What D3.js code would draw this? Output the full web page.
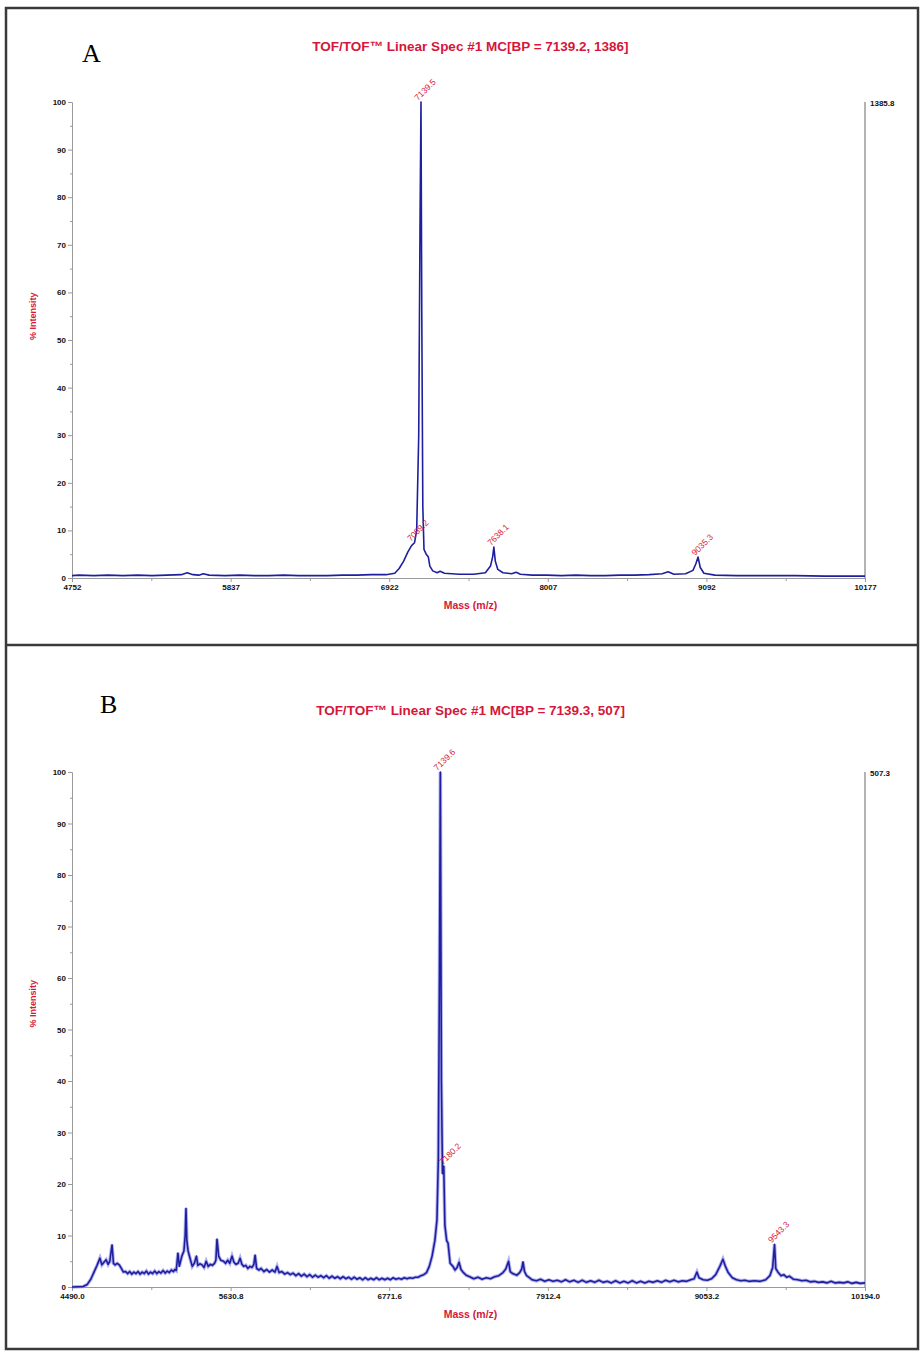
<!DOCTYPE html>
<html>
<head>
<meta charset="utf-8">
<script src="https://cdn.jsdelivr.net/npm/d3@7"></script>
<style>
  body { margin: 0; background: #fff; }
  svg { display: block; font-family: "Liberation Sans", Arial, sans-serif; }
  .tick text { font-size: 8px; font-weight: bold; fill: #111; }
  .axis path, .axis line { stroke: #9a9a9a; }
</style>
</head>
<body>
<script>
// ---- panel A: [mass, % intensity] ----
var specA = [[4752, 0.5], [4800, 0.6], [4900, 0.5], [5000, 0.6], [5100, 0.5], [5200, 0.6], [5300, 0.5],
  [5400, 0.6], [5500, 0.7], [5540, 1.1], [5580, 0.7], [5620, 0.6], [5650, 0.9], [5690, 0.6], [5800, 0.5],
  [5900, 0.6], [6000, 0.5], [6100, 0.5], [6200, 0.6], [6300, 0.5], [6400, 0.5], [6500, 0.5], [6600, 0.6],
  [6700, 0.6], [6800, 0.7], [6900, 0.7], [6960, 1.0], [6990, 2.0], [7020, 3.5], [7050, 5.5], [7075, 6.8],
  [7095, 7.4], [7110, 10], [7124, 30], [7133, 75], [7139.5, 100], [7145, 55], [7152, 15], [7160, 6],
  [7175, 5.0], [7190, 4.4], [7200, 2.5], [7220, 1.5], [7250, 1.1], [7270, 1.4], [7300, 1.0], [7350, 0.9],
  [7400, 0.8], [7500, 0.8], [7580, 1.1], [7615, 2.5], [7630, 4.5], [7638, 6.5], [7648, 3.5], [7665, 1.8],
  [7700, 1.1], [7760, 0.9], [7790, 1.2], [7820, 0.8], [7900, 0.6], [8000, 0.6], [8100, 0.5], [8200, 0.6],
  [8300, 0.5], [8400, 0.5], [8500, 0.6], [8600, 0.6], [8700, 0.7], [8790, 0.9], [8830, 1.3], [8870, 0.8],
  [8950, 0.9], [9000, 1.6], [9020, 3.0], [9035, 4.4], [9050, 2.2], [9075, 1.0], [9150, 0.6], [9300, 0.5],
  [9500, 0.5], [9700, 0.5], [9900, 0.4], [10177, 0.4]];
var ticksA = [4752, 5837, 6922, 8007, 9092, 10177];
var peakMassA = [7139.5, 7089.2, 7638.1, 9035.3];
var peakIntA = [100, 7.4, 6.5, 4.4];
var peakTextA = ["7139.5", "7089.2", "7638.1", "9035.3"];
var titleA = "TOF/TOF\u2122 Linear Spec #1 MC[BP = 7139.2, 1386]";
var maxCountA = "1385.8";

// ---- panel B ----
var specB = [[4490, 0], [4530, 0.05], [4570, 0.1], [4600, 0.5], [4625, 1.5], [4650, 3.0], [4670, 4.2],
  [4691, 5.6], [4705, 4.3], [4720, 4.8], [4735, 5.3], [4750, 4.4], [4762, 5.0], [4778, 8.2], [4788, 4.6],
  [4800, 4.3], [4815, 4.6], [4830, 4.3], [4845, 3.6], [4860, 2.9], [4875, 3.0], [4890, 2.6], [4905, 3.0],
  [4920, 2.5], [4935, 2.9], [4950, 2.6], [4965, 3.0], [4980, 2.5], [4995, 2.9], [5010, 2.6], [5025, 3.1],
  [5040, 2.5], [5055, 2.9], [5070, 2.6], [5085, 3.1], [5100, 2.6], [5115, 3.0], [5130, 2.7], [5145, 3.2],
  [5160, 2.7], [5175, 3.1], [5190, 2.8], [5205, 3.3], [5220, 3.0], [5230, 3.4], [5240, 3.2], [5252, 6.6],
  [5262, 4.0], [5280, 6.0], [5295, 7.0], [5304, 10], [5310, 15.3], [5316, 9], [5325, 7.0], [5340, 5.5],
  [5355, 4.0], [5370, 4.6], [5385, 6.0], [5395, 4.2], [5410, 4.5], [5425, 4.3], [5440, 3.8], [5455, 5.0],
  [5470, 4.0], [5485, 4.4], [5500, 4.2], [5515, 4.6], [5525, 5.2], [5533, 9.3], [5545, 6.0], [5560, 5.2],
  [5580, 5.0], [5595, 4.6], [5610, 5.2], [5625, 4.6], [5641, 6.0], [5655, 4.8], [5670, 4.4], [5685, 4.6],
  [5699, 5.6], [5712, 4.4], [5725, 4.0], [5740, 4.2], [5755, 3.6], [5770, 4.0], [5785, 3.8], [5798, 4.4],
  [5807, 6.2], [5818, 3.6], [5835, 3.3], [5850, 3.6], [5870, 3.0], [5890, 3.4], [5910, 2.9], [5930, 3.3],
  [5950, 2.9], [5965, 4.0], [5980, 2.8], [6000, 3.0], [6020, 2.5], [6040, 2.8], [6060, 2.4], [6080, 2.7],
  [6100, 2.2], [6120, 2.6], [6140, 2.1], [6160, 2.5], [6180, 2.0], [6200, 2.4], [6220, 1.9], [6240, 2.3],
  [6260, 1.9], [6280, 2.2], [6300, 1.8], [6320, 2.2], [6340, 1.7], [6360, 2.1], [6380, 1.7], [6400, 2.0],
  [6420, 1.6], [6440, 2.0], [6460, 1.6], [6480, 1.9], [6500, 1.5], [6520, 1.9], [6540, 1.5], [6560, 1.8],
  [6580, 1.4], [6600, 1.8], [6620, 1.4], [6640, 1.7], [6660, 1.4], [6680, 1.8], [6700, 1.4], [6720, 1.7],
  [6740, 1.4], [6760, 1.7], [6780, 1.4], [6800, 1.8], [6820, 1.5], [6840, 1.7], [6860, 1.5], [6880, 1.8],
  [6900, 1.6], [6920, 1.8], [6940, 1.7], [6960, 1.9], [6980, 1.9], [7000, 2.2], [7020, 2.4], [7040, 2.8],
  [7060, 4.0], [7080, 6.0], [7100, 9.0], [7115, 13], [7125, 25], [7133, 60], [7139.6, 100], [7147, 40],
  [7155, 22], [7164, 23.5], [7172, 12], [7185, 9], [7195, 8.5], [7210, 4.6], [7230, 4.0], [7245, 3.3],
  [7260, 3.8], [7274, 4.8], [7288, 3.4], [7302, 2.9], [7325, 2.3], [7350, 2.0], [7380, 1.6], [7410, 1.9],
  [7440, 1.5], [7470, 1.8], [7500, 1.6], [7530, 2.0], [7560, 2.2], [7590, 2.8], [7610, 3.5], [7630, 5.0],
  [7642, 3.0], [7660, 2.6], [7690, 2.3], [7710, 2.8], [7725, 3.5], [7734, 4.9], [7745, 3.0], [7760, 2.2],
  [7780, 1.8], [7800, 1.4], [7830, 1.2], [7860, 1.5], [7890, 1.1], [7920, 1.4], [7950, 1.1], [7980, 1.3],
  [8010, 1.0], [8040, 1.4], [8070, 1.0], [8100, 1.3], [8130, 0.9], [8160, 1.3], [8190, 0.9], [8220, 1.2],
  [8250, 0.9], [8280, 1.3], [8310, 0.9], [8340, 1.1], [8370, 0.8], [8400, 1.2], [8430, 0.8], [8460, 1.1],
  [8490, 0.8], [8520, 1.2], [8550, 0.8], [8580, 1.1], [8610, 0.8], [8640, 1.1], [8670, 0.9], [8700, 1.2],
  [8730, 0.9], [8760, 1.3], [8790, 1.0], [8820, 1.3], [8850, 1.0], [8880, 1.2], [8910, 1.1], [8940, 1.4],
  [8965, 1.6], [8985, 2.9], [9000, 1.8], [9030, 1.4], [9060, 1.3], [9090, 1.6], [9120, 2.4], [9150, 4.0],
  [9172, 5.4], [9190, 4.0], [9210, 2.8], [9240, 1.8], [9270, 1.4], [9300, 1.2], [9330, 1.3], [9360, 1.1],
  [9400, 1.2], [9440, 1.1], [9480, 1.4], [9510, 2.2], [9530, 3.8], [9543.3, 8.3], [9552, 3.6], [9570, 2.8],
  [9590, 2.2], [9610, 2.4], [9630, 1.9], [9650, 2.1], [9680, 1.5], [9710, 1.4], [9740, 1.2], [9770, 1.3],
  [9800, 1.0], [9830, 1.1], [9860, 0.9], [9890, 1.0], [9920, 0.8], [9950, 1.1], [9980, 0.8], [10010, 0.9],
  [10040, 0.8], [10070, 1.0], [10100, 0.7], [10130, 0.9], [10160, 0.7], [10194, 0.8]];
var ticksB = [4490.0, 5630.8, 6771.6, 7912.4, 9053.2, 10194.0];
var peakMassB = [7139.6, 7180.2, 9543.3];
var peakIntB = [100, 23.5, 8.3];
var peakTextB = ["7139.6", "7180.2", "9543.3"];
var titleB = "TOF/TOF\u2122 Linear Spec #1 MC[BP = 7139.3, 507]";
var maxCountB = "507.3";

var yTicks = [0, 10, 20, 30, 40, 50, 60, 70, 80, 90, 100];

var red = "#d4173a",
    trace = "#1f1f9e";

var svg = d3.select("body").append("svg")
    .attr("width", 920)
    .attr("height", 1353);

svg.append("rect").attr("width", 920).attr("height", 1353).attr("fill", "#fff");

// frame and divider
svg.append("rect")
    .attr("x", 6).attr("y", 8)
    .attr("width", 912).attr("height", 1341)
    .attr("fill", "none").attr("stroke", "#3a3a3a").attr("stroke-width", 2.5);
svg.append("line")
    .attr("x1", 6).attr("x2", 918).attr("y1", 645).attr("y2", 645)
    .attr("stroke", "#3a3a3a").attr("stroke-width", 2.5);

drawPanel({
  letter: "A", letterX: 82, letterY: 62,
  title: titleA, titleY: 51,
  left: 72, right: 865, top: 102, bottom: 578,
  spec: specA, ticks: ticksA,
  fmt: d3.format("d"),
  peakMass: peakMassA, peakInt: peakIntA, peakText: peakTextA,
  maxCount: maxCountA, fuzz: false
});

drawPanel({
  letter: "B", letterX: 100, letterY: 713,
  title: titleB, titleY: 715,
  left: 72, right: 865, top: 772, bottom: 1287,
  spec: specB, ticks: ticksB,
  fmt: d3.format(".1f"),
  peakMass: peakMassB, peakInt: peakIntB, peakText: peakTextB,
  maxCount: maxCountB, fuzz: true
});

function drawPanel(p) {
  var x = d3.scaleLinear()
      .domain([p.ticks[0], p.ticks[p.ticks.length - 1]])
      .range([p.left, p.right]);
  var y = d3.scaleLinear().domain([0, 100]).range([p.bottom, p.top]);

  var g = svg.append("g");

  g.append("text")
      .attr("x", p.letterX).attr("y", p.letterY)
      .style("font-family", "'Liberation Serif', 'DejaVu Serif', serif")
      .style("font-size", "26px")
      .text(p.letter);

  g.append("text")
      .attr("x", (p.left + p.right) / 2 + 2).attr("y", p.titleY)
      .attr("text-anchor", "middle")
      .style("font-size", "13.5px").style("font-weight", "bold")
      .attr("fill", red)
      .text(p.title);

  // minor ticks at half intervals
  var minorX = [];
  for (var i = 0; i < p.ticks.length - 1; i++) minorX.push((p.ticks[i] + p.ticks[i + 1]) / 2);

  g.append("g")
      .attr("class", "axis")
      .attr("transform", "translate(0," + p.bottom + ")")
      .call(d3.axisBottom(x).tickValues(minorX).tickSize(3).tickSizeOuter(0).tickFormat(""));

  g.append("g")
      .attr("class", "axis")
      .attr("transform", "translate(0," + p.bottom + ")")
      .call(d3.axisBottom(x).tickValues(p.ticks).tickSize(4).tickSizeOuter(0).tickPadding(2).tickFormat(p.fmt));

  g.append("g")
      .attr("class", "axis")
      .attr("transform", "translate(" + p.left + ",0)")
      .call(d3.axisLeft(y).tickValues(d3.range(5, 100, 10)).tickSize(2).tickSizeOuter(0).tickFormat(""));

  g.append("g")
      .attr("class", "axis")
      .attr("transform", "translate(" + p.left + ",0)")
      .call(d3.axisLeft(y).tickValues(yTicks).tickSize(4).tickSizeOuter(0).tickPadding(2));

  // right-hand axis with absolute count
  g.append("line")
      .attr("x1", p.right).attr("x2", p.right)
      .attr("y1", p.top).attr("y2", p.bottom)
      .attr("stroke", "#9a9a9a").attr("stroke-width", 1.5);
  g.append("text")
      .attr("x", p.right + 5).attr("y", p.top + 4)
      .style("font-size", "8px").style("font-weight", "bold")
      .attr("fill", "#111")
      .text(p.maxCount);

  g.append("text")
      .attr("x", (p.left + p.right) / 2 + 2).attr("y", p.bottom + 31)
      .attr("text-anchor", "middle")
      .style("font-size", "10.5px").style("font-weight", "bold")
      .attr("fill", red)
      .text("Mass (m/z)");

  var ly = y(55);
  g.append("text")
      .attr("transform", "translate(36," + ly + ") rotate(-90)")
      .attr("text-anchor", "middle")
      .style("font-size", "9px").style("font-weight", "bold")
      .attr("fill", red)
      .text("% Intensity");

  var line = d3.line()
      .x(function (d) { return x(d[0]); })
      .y(function (d) { return y(d[1]); });

  if (p.fuzz) {
    g.append("path")
        .datum(p.spec)
        .attr("d", line)
        .attr("fill", "none")
        .attr("stroke", "#7d7de6")
        .attr("stroke-opacity", 0.6)
        .attr("stroke-width", 3.5);
  }
  g.append("path")
      .datum(p.spec)
      .attr("d", line)
      .attr("fill", "none")
      .attr("stroke", trace)
      .attr("stroke-width", 1.6)
      .attr("stroke-linejoin", "round");

  g.selectAll(".peak")
      .data(p.peakMass)
      .enter().append("text")
      .attr("class", "peak")
      .attr("transform", function (d, i) {
        return "translate(" + (x(d) - 3) + "," + (y(p.peakInt[i]) - 1) + ") rotate(-45)";
      })
      .style("font-size", "8.5px")
      .attr("fill", red)
      .text(function (d, i) { return p.peakText[i]; });
}
</script>
</body>
</html>
